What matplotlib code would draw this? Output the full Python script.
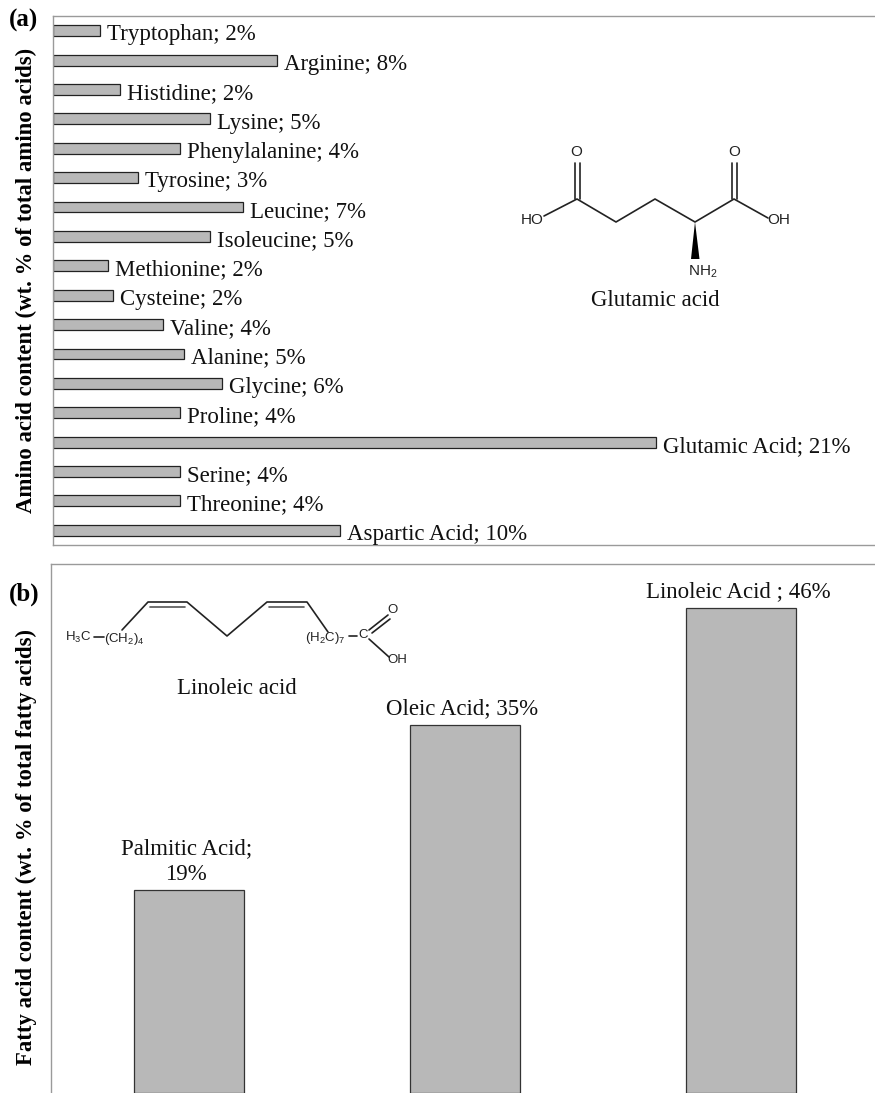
import matplotlib
matplotlib.use("Agg")
import matplotlib.pyplot as plt

plt.rcParams['font.family'] = ['Liberation Serif', 'DejaVu Sans']
plt.rcParams['mathtext.fontset'] = 'custom'
plt.rcParams['mathtext.rm'] = 'Liberation Sans'

W, H = 875, 1093

# amino acids, top to bottom
amino_names = ['Tryptophan', 'Arginine', 'Histidine', 'Lysine', 'Phenylalanine', 'Tyrosine',
               'Leucine', 'Isoleucine', 'Methionine', 'Cysteine', 'Valine', 'Alanine',
               'Glycine', 'Proline', 'Glutamic Acid', 'Serine', 'Threonine', 'Aspartic Acid']
amino_values = [1.64, 7.8, 2.33, 5.47, 4.42, 2.96, 6.62, 5.47, 1.92,
                2.09, 3.83, 4.56, 5.89, 4.42, 21.0, 4.42, 4.42, 10.0]
amino_pct = [2, 8, 2, 5, 4, 3, 7, 5, 2, 2, 4, 5, 6, 4, 21, 4, 4, 10]

# fatty acids
fatty_names = ['Palmitic Acid;\n19%', 'Oleic Acid; 35%', 'Linoleic Acid ; 46%']
fatty_values = [19.25, 34.9, 46.0]

GREY = '#b8b8b8'
BORDER = '#9a9a9a'
SIZE = 16.5


def axes_px(left, top, right, bottom):
    return fig.add_axes([left / W, 1 - bottom / H, (right - left) / W, (bottom - top) / H])


def style(ax):
    ax.set_xticks([])
    ax.set_yticks([])
    for s in ax.spines.values():
        s.set_color(BORDER)
        s.set_linewidth(1)
    ax.spines['right'].set_visible(False)


fig = plt.figure(figsize=(W / 100, H / 100), dpi=100)

# panel a
ax1 = axes_px(53, 16, 875, 545)
ypos = list(range(len(amino_names)))
ax1.barh(ypos, amino_values, height=0.37, color=GREY, edgecolor='#222222', linewidth=0.9)
ax1.set_xlim(0, 822 / 28.71)
ax1.set_ylim(len(amino_names) - 0.5, -0.5)
style(ax1)
for y, v, n, p in zip(ypos, amino_values, amino_names, amino_pct):
    ax1.annotate(f'{n}; {p}%', (v, y), xytext=(5, -3), textcoords='offset points',
                 va='center', ha='left', fontsize=SIZE, color='#111111')

# panel b
ax2 = axes_px(51, 564, 875, 1093)
xpos = list(range(len(fatty_names)))
ax2.bar(xpos, fatty_values, width=0.402, color=GREY, edgecolor='#333333', linewidth=0.9)
ax2.set_xlim(-0.5, -0.5 + 824 / 276)
ax2.set_ylim(0, 529 / 10.54)
style(ax2)
ax2.spines['bottom'].set_visible(False)
for x, v, n in zip(xpos, fatty_values, fatty_names):
    ax2.annotate(n, (x, v), xytext=(-2, 4), textcoords='offset points', linespacing=1.25,
                 va='bottom', ha='center', fontsize=SIZE, color='#111111')

# overlay in pixel coordinates for titles and the molecules
ov = fig.add_axes([0, 0, 1, 1], facecolor='none')
ov.set_xlim(0, W)
ov.set_ylim(H, 0)
ov.axis('off')

ov.text(26, 280, 'Amino acid content (wt. % of total amino acids)', rotation=90, fontweight='bold',
        fontsize=16.4, ha='center', va='center')
ov.text(26, 847, 'Fatty acid content (wt. % of total fatty acids)', rotation=90, fontweight='bold',
        fontsize=16.4, ha='center', va='center')
ov.text(24, 20, '(a)', fontweight='bold', fontsize=18, ha='center', va='center')
ov.text(24, 594, '(b)', fontweight='bold', fontsize=18, ha='center', va='center')


def bond(xs, ys, lw=1.2, c='#222222'):
    ov.plot(xs, ys, color=c, lw=lw, solid_capstyle='round', solid_joinstyle='round')


def atom(x, y, s, size=11, ha='center'):
    ov.text(x, y, s, fontsize=size, ha=ha, va='center', color='#222222',
            family=['Liberation Sans', 'DejaVu Sans'])


# glutamic acid
bond([544, 577, 616, 655, 695, 734, 768], [216, 199, 222, 199, 222, 199, 218])
bond([574.5, 574.5], [199, 163])
bond([579.5, 579.5], [199, 163])
bond([731.5, 731.5], [199, 163])
bond([736.5, 736.5], [199, 163])
ov.fill([695, 691, 699.5], [222, 259, 259], color='black', lw=0)
atom(532, 220, 'HO')
atom(779, 220, 'OH')
atom(576, 152, 'O')
atom(734, 152, 'O')
atom(703, 272, r'$\mathregular{NH_2}$')
ov.text(655, 300, 'Glutamic acid', fontsize=SIZE, ha='center', va='center', color='#111111')

# linoleic acid
bond([122, 148, 187, 227, 267, 307, 328], [630, 602, 602, 636, 602, 602, 632])
bond([150, 185], [607, 607], c='#555555')
bond([269, 304], [607, 607], c='#555555')
bond([94, 104], [637, 637])
bond([349, 357], [636, 636])
bond([369, 388], [630, 615])
bond([372, 390], [633, 619])
bond([369, 389], [639, 657])
atom(78, 637, r'$\mathregular{H_3C}$', 9.5)
atom(124, 639, r'$\mathregular{(CH_2)_4}$', 9.5)
atom(325, 638, r'$\mathregular{(H_2C)_7}$', 9.5)
atom(363, 635, 'C', 9.5)
atom(393, 610, 'O', 9.5)
atom(397, 660, 'OH', 9.5)
ov.text(237, 689, 'Linoleic acid', fontsize=SIZE, ha='center', va='center', color='#111111')

fig.savefig('out.png', dpi=100)
